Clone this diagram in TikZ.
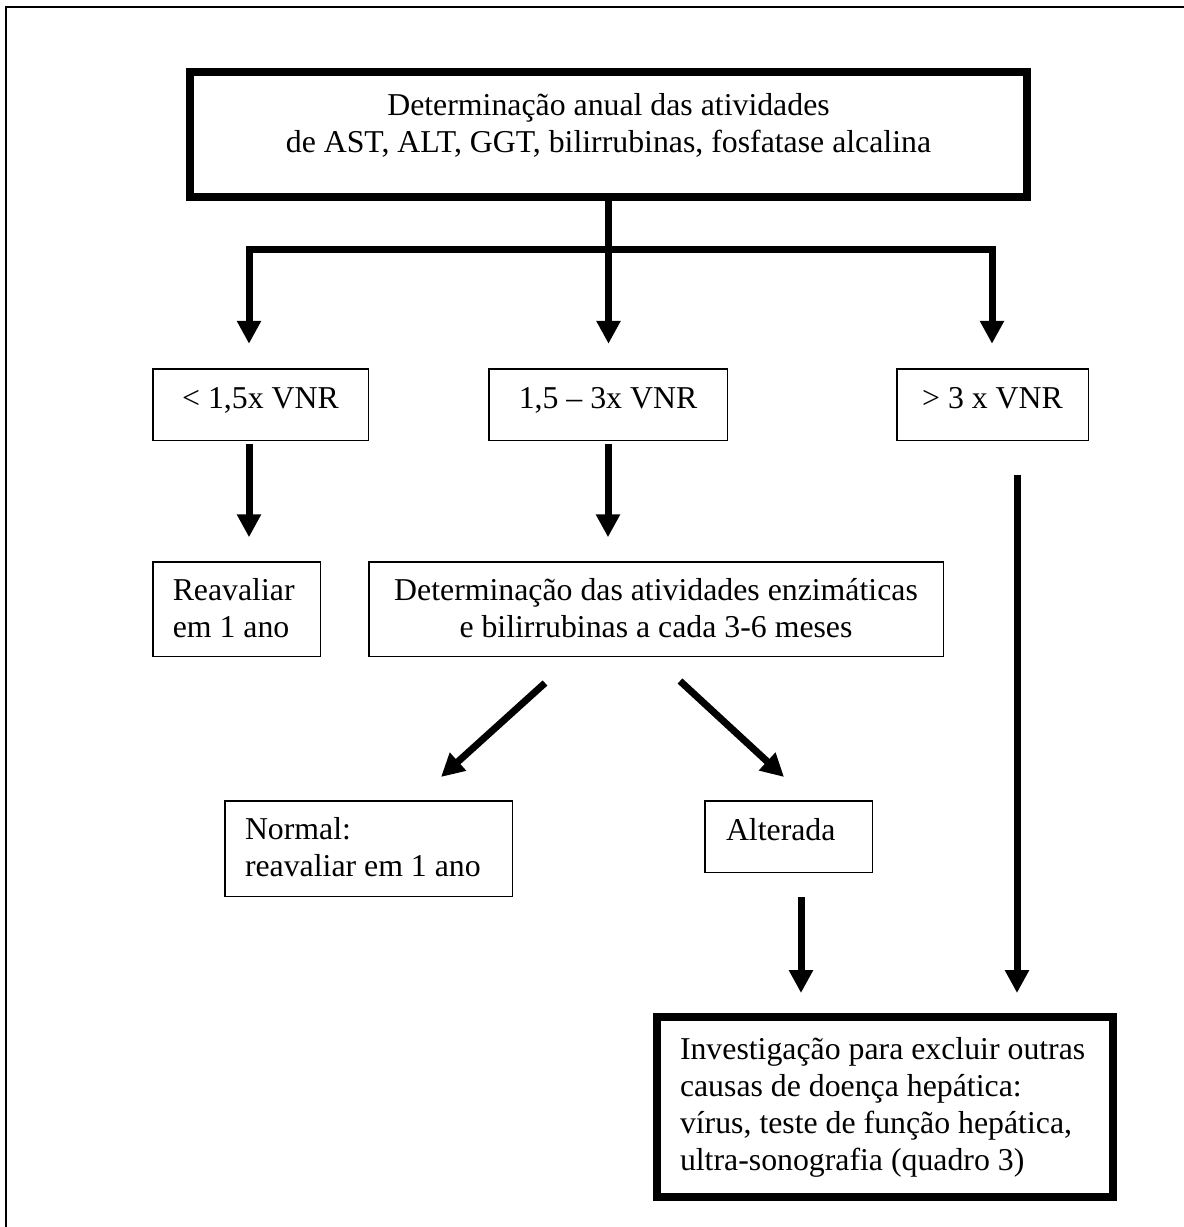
\documentclass[tikz,border=0pt]{standalone}
\usepackage{fontspec}
\setmainfont{Liberation Serif}
\usetikzlibrary{calc,arrows.meta}
\def\boxtext[#1]#2{\begin{tabular}[t]{@{}#1@{}}#2\end{tabular}}
\def\leftboxtext[#1](#2)#3{\makebox[#1][l]{\hspace*{#2}\boxtext[l]{#3}}}

\tikzset{
	thinbox/.style={draw, line width=1.5pt, inner sep=0pt, outer sep=0pt, anchor=north west},
	fatbox/.style={draw, line width=8pt, inner sep=0pt, outer sep=0pt, anchor=north west},
	fatline/.style={line width=7pt},
	fatarrow/.style={line width=7pt, -{Triangle[width=23pt,length=23pt]}},
}

\begin{document}
\begin{tikzpicture}[x=1pt, y=-1pt, font=\fontsize{31.8}{37}\selectfont]
			%%%%% START %%%%%
			\useasboundingbox (0,0) rectangle (1184,1227);
			\draw[line width=2pt] (6,1227) -- (6,7) -- (1184,7);
			
			\node[fatbox, minimum width=837, text height=43, text depth=82] (anual) at (190,72) {\boxtext[c]{Determinação anual das atividades\\de AST, ALT, GGT, bilirrubinas, fosfatase alcalina}};
			
			\node[thinbox, minimum width=215.5, text height=39.25, text depth=32.25] (menor) at (152.75,368.75) {< 1,5x VNR};
			\node[thinbox, minimum width=238.5, text height=39.25, text depth=32.25] (medio) at (488.75,368.75) {1,5 \textendash{} 3x VNR};
			\node[thinbox, minimum width=191.5, text height=39.25, text depth=32.25] (maior) at (896.75,368.75) {> 3 x VNR};
			
			\node[thinbox, text height=38.25, text depth=56.25] (reav) at (152.75,561.75) {\leftboxtext[167.5pt](20pt){Reavaliar\\em 1 ano}};
			\node[thinbox, minimum width=574.5, text height=38.25, text depth=56.25] (enzim) at (368.75,561.75) {\boxtext[c]{Determinação das atividades enzimáticas\\e bilirrubinas a cada 3-6 meses}};
			
			\node[thinbox, text height=38.25, text depth=57.25] (normal) at (224.75,800.75) {\leftboxtext[287.5pt](20.25pt){Normal:\\reavaliar em 1 ano}};
			\node[thinbox, text height=39.25, text depth=32.25] (alterada) at (704.75,800.75) {\leftboxtext[167.5pt](21.25pt){Alterada}};
			
			\node[fatbox, text height=42, text depth=138] (invest) at (657,1017) {\leftboxtext[456pt](23pt){Investigação para excluir outras\\causas de doença hepática:\\vírus, teste de função hepática,\\ultra-sonografia (quadro 3)}};
			
			\coordinate (garfoE) at (249,249.5);
			\coordinate (garfoD) at (992,249.5);
			\coordinate (desceD) at ($(maior.south)+(24.5,35)$);
			\coordinate (desceA) at ($(alterada.south)+(12.5,24.75)$);
			
			\draw[fatline, line cap=rect] (garfoE) -- (garfoD);
			\draw[fatline] (anual.south) -- (anual.south |- garfoE);
			\draw[fatarrow, shorten >=25pt] (garfoE) -- (garfoE |- menor.north);
			\draw[fatarrow, shorten >=25pt] (anual.south |- garfoE) -- (anual.south |- medio.north);
			\draw[fatarrow, shorten >=25pt] (garfoD) -- (garfoD |- maior.north);
			
			\draw[fatarrow, shorten <=3.5pt, shorten >=24.5pt] (garfoE |- menor.south) -- (garfoE |- reav.north);
			\draw[fatarrow, shorten <=3.5pt, shorten >=24.5pt] (medio.south) -- (medio.south |- enzim.north);
			\draw[fatarrow, shorten >=24pt] (desceD) -- (desceD |- invest.north);
			
			\draw[fatarrow] ($(enzim.south)+(-111,26.75)$) -- ($(normal.north)+(72.5,-23.75)$);
			\draw[fatarrow] ($(enzim.south)+(24,24.75)$) -- ($(alterada.north)+(-4.5,-23.75)$);
			\draw[fatarrow, shorten >=24pt] (desceA) -- (desceA |- invest.north);
			%%%%% END %%%%%
		\end{tikzpicture}
\end{document}
